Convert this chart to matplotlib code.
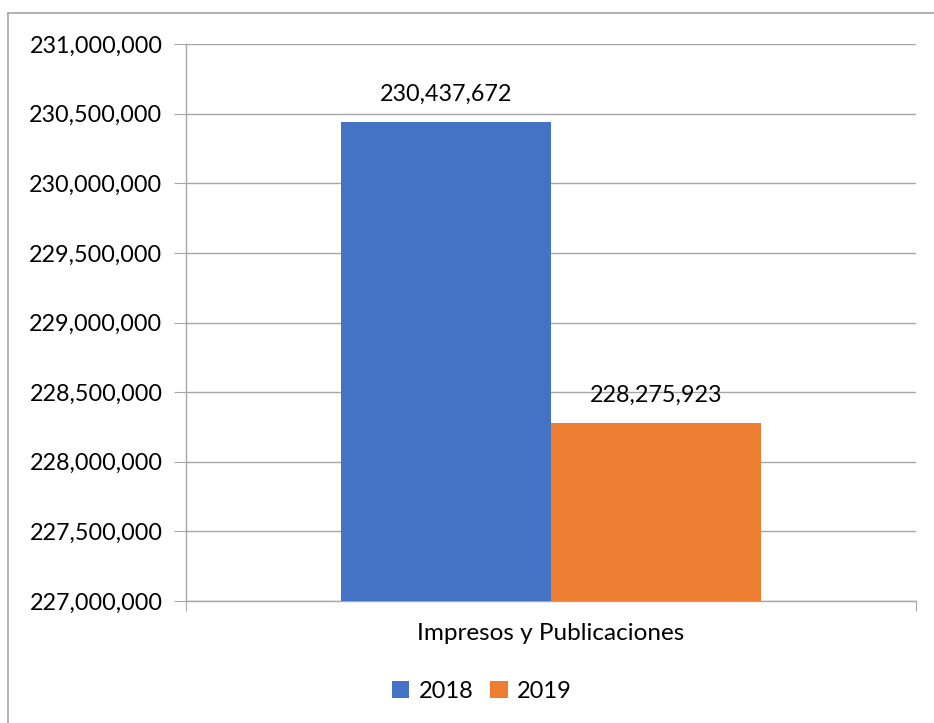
import matplotlib.pyplot as plt
from matplotlib.lines import Line2D
from matplotlib.ticker import FuncFormatter

categoria = 'Impresos y Publicaciones'
series = ['2018', '2019']
valores = [230437672, 228275923]
colores = ['#4472C4', '#ED7D31']

plt.rcParams['font.family'] = ['Lato', 'DejaVu Sans']

fig = plt.figure(figsize=(9.34, 7.23), dpi=100)
ax = fig.add_axes([186 / 934, 1 - 601 / 723, 730 / 934, 557 / 723])

ancho = 0.2877
for i, (s, v, c) in enumerate(zip(series, valores, colores)):
    x = (i - 0.5) * ancho
    ax.bar(x, v, width=ancho, color=c, label=s, zorder=3)
    ax.text(x, v + 125000, f'{v:,}', ha='center', va='bottom', fontsize=16.8)

ax.set_xlim(-0.5, 0.5)
ax.set_ylim(227000000, 231000000)
ax.set_yticks(range(227000000, 231000001, 500000))
ax.yaxis.set_major_formatter(FuncFormatter(lambda y, p: f'{int(y):,}'))
ax.grid(axis='y', color='#A6A6A6', linewidth=1, zorder=0)
ax.set_xticks([-0.5, 0.5])
ax.set_xticklabels(['', ''])
ax.tick_params(axis='y', length=9, color='#A6A6A6', labelsize=16.8, pad=8)
ax.tick_params(axis='x', length=7, color='#A6A6A6')
for lado in ['top', 'right']:
    ax.spines[lado].set_visible(False)
for lado in ['left', 'bottom']:
    ax.spines[lado].set_color('#A6A6A6')
    ax.spines[lado].set_linewidth(1)

fig.text(551 / 934, 1 - 634 / 723, categoria, ha='center', va='center', fontsize=17.5)

fig.legend(loc='center', bbox_to_anchor=(482 / 934, 1 - 691 / 723), ncol=2,
           frameon=False, fontsize=17, handlelength=0.75, handleheight=0.75,
           columnspacing=0.7, handletextpad=0.4)

# marco del área del gráfico (solo visible a la izquierda y arriba)
fig.add_artist(Line2D([8 / 934, 8 / 934], [0, 1 - 13 / 723], transform=fig.transFigure,
                      color='#A6A6A6', linewidth=1.2))
fig.add_artist(Line2D([8 / 934, 1], [1 - 13 / 723, 1 - 13 / 723], transform=fig.transFigure,
                      color='#A6A6A6', linewidth=1.2))

fig.savefig('out.png', dpi=100)
